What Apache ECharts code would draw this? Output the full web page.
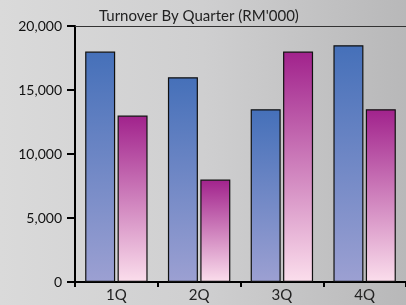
<!DOCTYPE html>
<html>
<head>
<meta charset="utf-8">
<script src="https://cdn.jsdelivr.net/npm/echarts@6/dist/echarts.min.js"></script>
<style>
  html, body { margin: 0; padding: 0; }
  #chart {
    width: 406px; height: 305px;
    background: linear-gradient(90deg, #dadada 0%, #cfcfd0 50%, #b8b8b9 100%);
  }
</style>
</head>
<body>
<div id="chart"></div>
<script>
// quarters and turnover (RM'000)
const quarters = ['1Q', '2Q', '3Q', '4Q']
const seriesA = [18000, 16000, 13500, 18500]
const seriesB = [13000, 8000, 18000, 13500]
const yTicks = [0, 5000, 10000, 15000, 20000]

const chart = echarts.init(document.getElementById('chart'), null, { renderer: 'canvas' })

function grad(top, bottom) {
  return new echarts.graphic.LinearGradient(0, 0, 0, 1, [
    { offset: 0, color: top },
    { offset: 1, color: bottom }
  ])
}

const font = 'Lato, "Open Sans", sans-serif'

chart.setOption({
  animation: false,
  title: {
    text: "Turnover By Quarter (RM'000)",
    left: 94, top: 4,
    textStyle: { fontFamily: font, fontSize: 15, fontWeight: 'normal', color: '#222' }
  },
  grid: { left: 75, top: 26, width: 332, height: 256 },
  xAxis: [
    {
      type: 'category',
      data: quarters,
      axisLine: { lineStyle: { color: '#000', width: 2 } },
      axisTick: { show: true, length: 5, lineStyle: { color: '#000', width: 2 } },
      axisLabel: { fontFamily: font, fontSize: 15, color: '#222', margin: 6 }
    },
    {
      type: 'category',
      data: quarters,
      position: 'top',
      axisLine: { lineStyle: { color: '#333', width: 1 } },
      axisTick: { show: false },
      axisLabel: { show: false }
    }
  ],
  yAxis: {
    type: 'value',
    min: yTicks[0],
    max: yTicks[yTicks.length - 1],
    interval: 5000,
    axisLine: { show: true, lineStyle: { color: '#000', width: 2 } },
    axisTick: { show: true, length: 8, lineStyle: { color: '#000', width: 2 } },
    splitLine: { show: false },
    axisLabel: {
      fontFamily: font, fontSize: 14, color: '#111', margin: 13,
      formatter: v => v.toLocaleString('en-US')
    }
  },
  series: [
    {
      type: 'bar',
      data: seriesA,
      barWidth: 30,
      barGap: '8%',
      itemStyle: { color: grad('#4570b9', '#9ca0d2'), borderColor: '#111', borderWidth: 1.2 }
    },
    {
      type: 'bar',
      data: seriesB,
      barWidth: 30,
      itemStyle: { color: grad('#a1228c', '#fbdeec'), borderColor: '#111', borderWidth: 1.2 }
    }
  ]
})
</script>
</body>
</html>
